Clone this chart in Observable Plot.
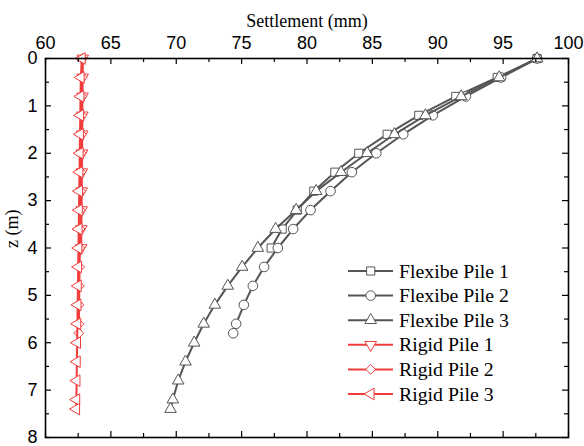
<!DOCTYPE html>
<html><head><meta charset="utf-8">
<script src="https://cdn.jsdelivr.net/npm/d3@7"></script>
<script src="https://cdn.jsdelivr.net/npm/@observablehq/plot@0.6"></script>
<style>body{margin:0;background:#fff} #chart{width:584px;height:446px}</style>
</head><body><div id="chart"></div>
<script>
// Depths (m)
const z1 = [0, 0.4, 0.8, 1.2, 1.6, 2.0, 2.4, 2.8, 3.2, 3.6, 4.0];
const z2 = [0, 0.4, 0.8, 1.2, 1.6, 2.0, 2.4, 2.8, 3.2, 3.6, 4.0, 4.4, 4.8, 5.2, 5.6, 5.8];
const z3 = [0, 0.4, 0.8, 1.2, 1.6, 2.0, 2.4, 2.8, 3.2, 3.6, 4.0, 4.4, 4.8, 5.2, 5.6, 6.0, 6.4, 6.8, 7.2, 7.4];
// Settlement (mm)
const flex1 = [97.6, 94.55, 91.38, 88.55, 86.13, 83.96, 82.13, 80.52, 79.25, 78.1, 77.26];
const flex2 = [97.6, 94.85, 92.15, 89.62, 87.36, 85.3, 83.43, 81.8, 80.27, 78.94, 77.77, 76.72, 75.86, 75.17, 74.58, 74.36];
const flex3 = [97.6, 94.7, 91.79, 89.06, 86.69, 84.6, 82.6, 80.7, 79.17, 77.6, 76.24, 75.04, 73.94, 72.95, 72.1, 71.37, 70.71, 70.15, 69.74, 69.56];
const rigid1 = [62.85, 62.84, 62.83, 62.82, 62.81, 62.80, 62.78, 62.77, 62.76, 62.74, 62.73];
const rigid2 = [62.82, 62.80, 62.78, 62.77, 62.75, 62.73, 62.71, 62.69, 62.67, 62.65, 62.63, 62.61, 62.59, 62.57, 62.56, 62.55];
const rigid3 = [62.78, 62.70, 62.68, 62.66, 62.64, 62.62, 62.60, 62.58, 62.56, 62.54, 62.52, 62.50, 62.48, 62.46, 62.44, 62.42, 62.40, 62.38, 62.36, 62.35];
const names = ["Flexibe Pile 1", "Flexibe Pile 2", "Flexibe Pile 3", "Rigid Pile 1", "Rigid Pile 2", "Rigid Pile 3"];
const xTicks = [60, 65, 70, 75, 80, 85, 90, 95, 100];
const xMinor = [62.5, 67.5, 72.5, 77.5, 82.5, 87.5, 92.5, 97.5];
const yTicks = [0, 1, 2, 3, 4, 5, 6, 7, 8];
const yMinor = [0.5, 1.5, 2.5, 3.5, 4.5, 5.5, 6.5, 7.5];

const GREY = "#555555", RED = "#f23c3c";
const series = [
  {name: names[0], z: z1, v: flex1, color: GREY, symbol: "square", rotate: 0, r: 4.6},
  {name: names[1], z: z2, v: flex2, color: GREY, symbol: "circle", rotate: 0, r: 4.8},
  {name: names[2], z: z3, v: flex3, color: GREY, symbol: "triangle", rotate: 0, r: 4.3},
  {name: names[3], z: z1, v: rigid1, color: RED, symbol: "triangle", rotate: 180, r: 4.3},
  {name: names[4], z: z2, v: rigid2, color: RED, symbol: "diamond2", rotate: 0, r: 4.4},
  {name: names[5], z: z3, v: rigid3, color: RED, symbol: "triangle", rotate: -90, r: 4.3}
];

const W = 584, H = 446, mL = 45, mR = 16, mT = 58, mB = 9;
const pW = W - mL - mR, pH = H - mT - mB;
const SANS = "'Liberation Sans', Arial, sans-serif";
const SERIF = "'Liberation Serif', 'Times New Roman', serif";

const marks = [];
series.forEach(s => {
  const rows = s.z.map((z, i) => ({z, v: s.v[i]}));
  marks.push(Plot.line(rows, {x: "v", y: "z", stroke: s.color, strokeWidth: 2}));
  marks.push(Plot.dot(rows, {x: "v", y: "z", symbol: s.symbol, r: s.r, rotate: s.rotate, fill: "white", stroke: s.color, strokeWidth: 1}));
});
// inward ticks on all four sides
marks.push(
  Plot.tickX(xTicks, {x: d => d, insetBottom: pH - 6, stroke: "#000", strokeWidth: 1.2}),
  Plot.tickX(xMinor, {x: d => d, insetBottom: pH - 4, stroke: "#000", strokeWidth: 1.2}),
  Plot.tickX(xTicks, {x: d => d, insetTop: pH - 6, stroke: "#000", strokeWidth: 1.2}),
  Plot.tickX(xMinor, {x: d => d, insetTop: pH - 4, stroke: "#000", strokeWidth: 1.2}),
  Plot.tickY(yTicks, {y: d => d, insetRight: pW - 6, stroke: "#000", strokeWidth: 1.2}),
  Plot.tickY(yMinor, {y: d => d, insetRight: pW - 4, stroke: "#000", strokeWidth: 1.2}),
  Plot.tickY(yTicks, {y: d => d, insetLeft: pW - 6, stroke: "#000", strokeWidth: 1.2}),
  Plot.tickY(yMinor, {y: d => d, insetLeft: pW - 4, stroke: "#000", strokeWidth: 1.2}),
  Plot.frame({stroke: "#000", strokeWidth: 1.6}),
  Plot.axisX(xTicks, {anchor: "top", tickSize: 0, tickPadding: 10, fontSize: 18, fontFamily: SANS, label: null, tickFormat: d => String(d)}),
  Plot.axisY(yTicks, {anchor: "left", tickSize: 0, tickPadding: 8, fontSize: 18, fontFamily: SANS, label: null, tickFormat: d => String(d)}),
  Plot.text(["Settlement (mm)"], {frameAnchor: "top", dy: -44, fontSize: 18, fontFamily: SERIF, fill: "#000"}),
  Plot.text(["z (m)"], {frameAnchor: "left", dx: -33, rotate: -90, fontSize: 18, fontFamily: SERIF, fill: "#000"})
);

const chart = Plot.plot({
  width: W, height: H,
  marginLeft: mL, marginRight: mR, marginTop: mT, marginBottom: mB,
  x: {domain: [60, 100]},
  y: {domain: [0, 8], reverse: true},
  style: {background: "#fff", color: "#000", overflow: "visible"},
  marks
});
document.getElementById("chart").appendChild(chart);

// Legend
const symMap = {square: d3.symbolSquare, circle: d3.symbolCircle, triangle: d3.symbolTriangle, diamond2: d3.symbolDiamond2};
const lg = d3.select(chart).append("g").attr("font-family", SERIF).attr("font-size", 19.8).attr("text-anchor", "start");
series.forEach((s, i) => {
  const y = 271 + i * 24.6;
  lg.append("line").attr("x1", 348).attr("x2", 393).attr("y1", y).attr("y2", y)
    .attr("stroke", s.color).attr("stroke-width", 2);
  lg.append("path").attr("d", d3.symbol(symMap[s.symbol], Math.PI * s.r * s.r)())
    .attr("transform", `translate(370.7,${y}) rotate(${s.rotate})`)
    .attr("fill", "white").attr("stroke", s.color).attr("stroke-width", 1);
  lg.append("text").attr("x", 399).attr("y", y).attr("dy", "0.33em").attr("text-anchor", "start").attr("fill", "#000").text(s.name);
});
</script></body></html>
